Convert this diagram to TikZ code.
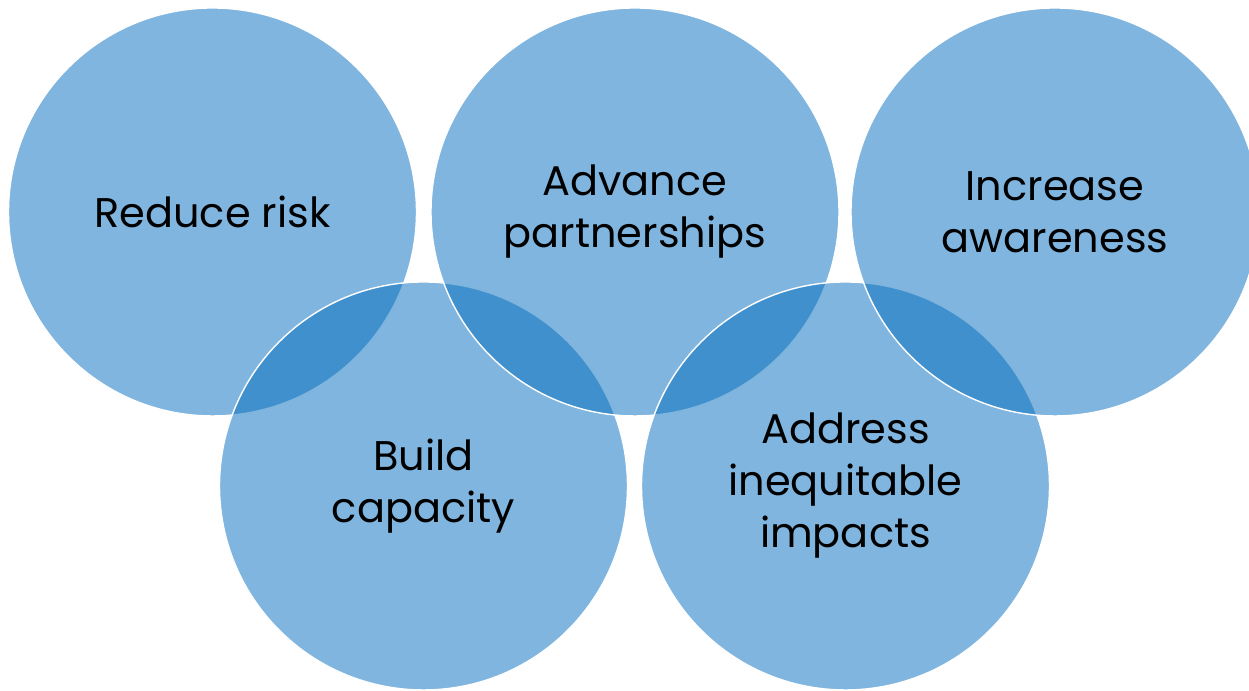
\documentclass[tikz,border=0pt]{standalone}
\usepackage{fontspec}
\setmainfont{Poppins}
\definecolor{goalblue}{RGB}{0,107,189}

\begin{document}
\begin{tikzpicture}[goal/.style={circle,draw=white,line width=0.4pt,fill=goalblue,fill opacity=0.5,text opacity=1,minimum size=4.08cm,inner sep=0pt,align=center,font=\fontsize{11.8}{14.8}\selectfont}]
	\useasboundingbox (0,0) rectangle (12.49,6.91);
	%circles, drawn so that each later one lies over the one before
	\node[goal] at (2.125,4.79) (risk) {Reduce risk};
	\node[goal] at (4.235,2.05) (capacity) {Build\\capacity};
	\node[goal] at (6.35,4.79) (partner) {Advance\\partnerships};
	\node[goal] at (8.455,2.05) (impacts) {Address\\inequitable\\impacts};
	\node[goal] at (10.55,4.79) (aware) {Increase\\awareness};
\end{tikzpicture}
\end{document}
